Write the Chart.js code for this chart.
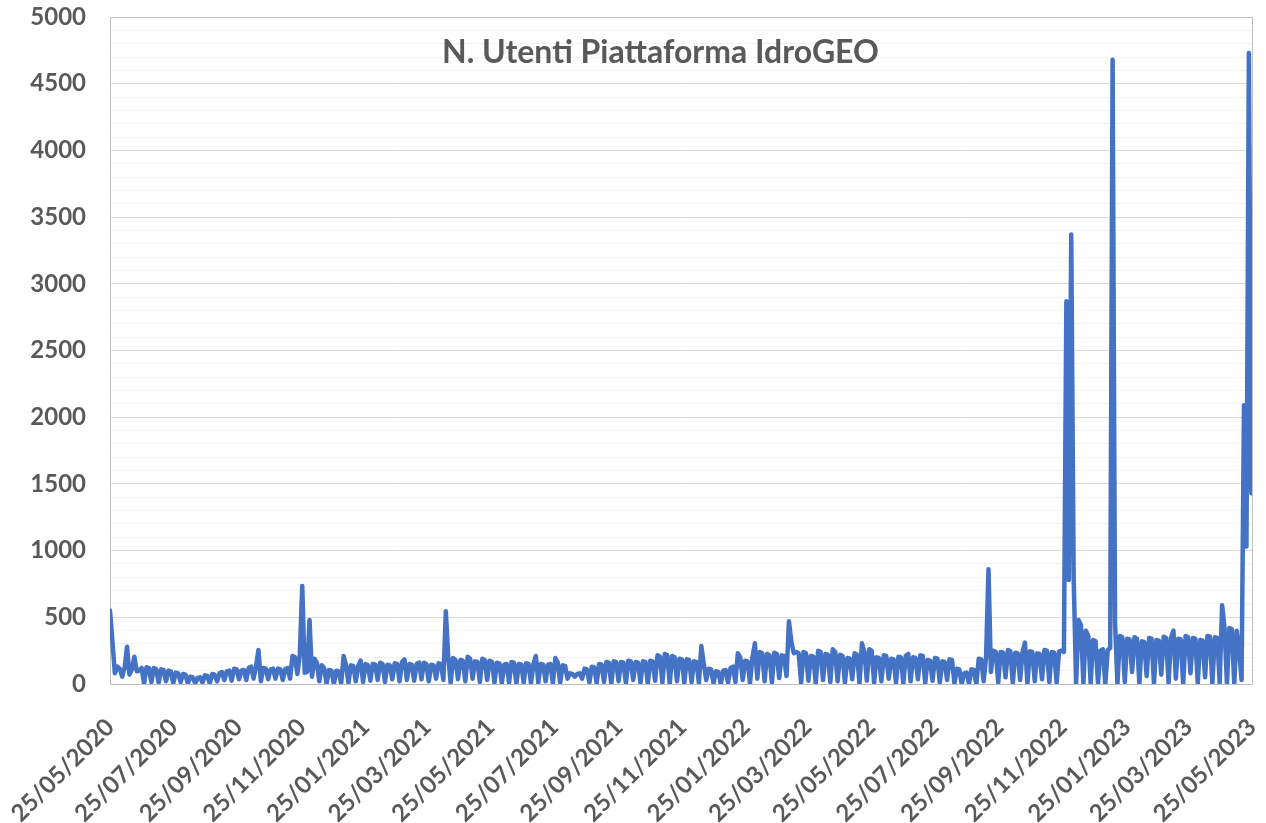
<!DOCTYPE html>
<html>
<head>
<meta charset="utf-8">
<script src="https://cdn.jsdelivr.net/npm/chart.js@4"></script>
<style>
  html, body { margin: 0; padding: 0; background: #ffffff; }
  #wrap { width: 1266px; height: 823px; }
</style>
</head>
<body>
<div id="wrap"><canvas id="users" width="1266" height="823"></canvas></div>
<script>
// daily users from 25/05/2020, read three times a week (two weekday levels, then the weekend dip)
const startDate = '25/05/2020';
const endDate = '25/05/2023';
const sampleStepDays = 7 / 3;
const users = [
    550, 320, 80, 130, 115, 55, 120, 280, 70, 110, 205, 95, 100, 120, 5,
    125, 120, 15, 120, 110, 10, 110, 105, 20, 100, 95, 5, 85, 80, 15,
    75, 70, 5, 55, 50, 5, 45, 50, 10, 65, 60, 5, 75, 70, 20,
    80, 90, 30, 95, 100, 25, 115, 110, 35, 100, 105, 30, 120, 130, 40,
    130, 255, 20, 120, 115, 35, 110, 115, 40, 115, 110, 30, 110, 120, 40,
    210, 200, 75, 220, 735, 85, 90, 480, 55, 190, 160, 20, 140, 120, 5,
    105, 100, 0, 100, 95, 5, 210, 140, 10, 140, 135, 20, 135, 175, 15,
    150, 140, 25, 150, 145, 30, 160, 150, 15, 145, 140, 35, 155, 150, 20,
    165, 185, 30, 150, 145, 25, 150, 160, 35, 160, 150, 20, 145, 140, 40,
    155, 150, 30, 545, 200, 10, 195, 180, 35, 180, 175, 20, 205, 190, 40,
    170, 165, 15, 190, 180, 30, 175, 165, 10, 160, 155, 5, 145, 150, 10,
    165, 160, 0, 150, 145, 10, 155, 150, 5, 150, 210, 10, 150, 145, 20,
    145, 150, 5, 195, 160, 10, 140, 135, 40, 80, 75, 55, 75, 80, 40,
    115, 110, 10, 130, 125, 5, 150, 145, 15, 165, 160, 0, 170, 165, 20,
    165, 160, 5, 175, 170, 30, 165, 160, 10, 170, 165, 0, 175, 170, 25,
    215, 205, 10, 225, 215, 0, 210, 200, 20, 190, 185, 5, 185, 180, 15,
    170, 165, 5, 285, 150, 30, 115, 110, 5, 95, 90, 0, 100, 105, 10,
    120, 130, 15, 230, 200, 30, 175, 170, 5, 200, 305, 40, 240, 230, 20,
    225, 215, 10, 235, 225, 45, 215, 210, 60, 470, 315, 230, 240, 230, 10,
    240, 230, 25, 210, 205, 5, 250, 240, 30, 225, 220, 15, 260, 240, 20,
    220, 210, 10, 195, 190, 35, 230, 220, 5, 305, 240, 25, 260, 250, 10,
    200, 195, 20, 215, 210, 40, 190, 185, 10, 205, 200, 5, 210, 225, 20,
    200, 195, 35, 215, 210, 5, 180, 175, 25, 195, 190, 10, 170, 165, 30,
    185, 180, 5, 115, 110, 0, 80, 85, 5, 110, 105, 0, 190, 185, 20,
    200, 860, 90, 250, 240, 10, 240, 235, 50, 255, 245, 5, 235, 230, 30,
    240, 310, 0, 245, 240, 20, 230, 225, 35, 255, 250, 15, 240, 235, 10,
    245, 250, 240,
    2870, 780, 3370, 800, 0, 480, 440, 5, 400, 360, 0, 330, 320, 5, 250,
    260, 0, 255, 270, 4680, 460, 0, 360, 350, 15,
    340, 335, 90, 350, 340, 5, 320, 315, 60, 345, 340, 0, 330, 325, 70,
    355, 345, 10, 345, 400, 40, 340, 335, 0, 360, 350, 80, 345, 340, 5,
    330, 325, 50, 360, 355, 0, 350, 345, 10, 590, 420, 0, 420, 410, 0,
    400, 250, 30, 2090, 1030, 4730, 1430
];
const xTickLabels = [
    '25/05/2020', '25/07/2020', '25/09/2020', '25/11/2020', '25/01/2021', '25/03/2021',
    '25/05/2021', '25/07/2021', '25/09/2021', '25/11/2021', '25/01/2022', '25/03/2022',
    '25/05/2022', '25/07/2022', '25/09/2022', '25/11/2022', '25/01/2023', '25/03/2023',
    '25/05/2023'
];
const yTickLabels = [0, 500, 1000, 1500, 2000, 2500, 3000, 3500, 4000, 4500, 5000];
const chartTitle = 'N. Utenti Piattaforma IdroGEO';

const textGrey = '#595959';

function dayNumber(label) {
    const [d, m, y] = label.split('/').map(Number);
    return Date.UTC(y, m - 1, d) / 86400000;
}
const lastDay = dayNumber(endDate) - dayNumber(startDate);

const points = users.map((v, i) => ({ x: Math.min(i * sampleStepDays, lastDay), y: v }));

// plot frame + title drawn inside the plot area, like the Excel chart
const framePlugin = {
    id: 'frame',
    beforeDatasetsDraw(chart) {
        const { ctx, chartArea: a } = chart;
        ctx.save();
        ctx.strokeStyle = '#bfbfbf';
        ctx.lineWidth = 1;
        ctx.strokeRect(a.left + 0.5, a.top + 0.5, a.right - a.left, a.bottom - a.top);
        ctx.fillStyle = textGrey;
        ctx.font = 'bold 32px Lato';
        ctx.textAlign = 'center';
        ctx.textBaseline = 'alphabetic';
        ctx.fillText(chartTitle, a.left + (a.right - a.left) * 0.482, a.top + 46);
        ctx.restore();
    }
};

new Chart(document.getElementById('users').getContext('2d'), {
    type: 'line',
    data: {
        datasets: [{
            label: 'Utenti',
            data: points,
            borderColor: '#4472C4',
            borderWidth: 4.5,
            borderJoinStyle: 'round',
            borderCapStyle: 'round',
            pointRadius: 0,
            tension: 0,
            fill: false
        }]
    },
    options: {
        responsive: false,
        animation: false,
        devicePixelRatio: 1,
        layout: { padding: { top: 17, right: 14, left: 0, bottom: 0 } },
        plugins: { legend: { display: false }, tooltip: { enabled: false } },
        scales: {
            x: {
                type: 'linear',
                min: 0,
                max: lastDay,
                grid: { display: false },
                border: { display: true, color: '#bfbfbf' },
                afterBuildTicks: scale => {
                    scale.ticks = xTickLabels.map(l => ({ value: dayNumber(l) - dayNumber(startDate) }));
                },
                afterFit: scale => {
                    scale.height = 139;
                    scale.paddingLeft = 0;
                    scale.paddingRight = 0;
                },
                ticks: {
                    autoSkip: false,
                    minRotation: 45,
                    maxRotation: 45,
                    padding: 21,
                    color: textGrey,
                    font: { family: 'Lato', weight: 'bold', size: 24 },
                    callback: (value, index) => xTickLabels[index]
                }
            },
            y: {
                min: 0,
                max: 5000,
                afterFit: scale => {
                    scale.width = 110;
                    scale.paddingTop = 0;
                    scale.paddingBottom = 0;
                },
                grid: {
                    drawTicks: false,
                    color: ctx => yTickLabels.includes(ctx.tick.value) ? '#d9d9d9' : '#f2f2f2'
                },
                border: { display: true, color: '#bfbfbf' },
                ticks: {
                    stepSize: 100,
                    autoSkip: false,
                    padding: 24,
                    color: textGrey,
                    font: { family: 'Lato', weight: 'bold', size: 24 },
                    callback: value => yTickLabels.includes(value) ? value : ''
                }
            }
        }
    },
    plugins: [framePlugin]
});
</script>
</body>
</html>
